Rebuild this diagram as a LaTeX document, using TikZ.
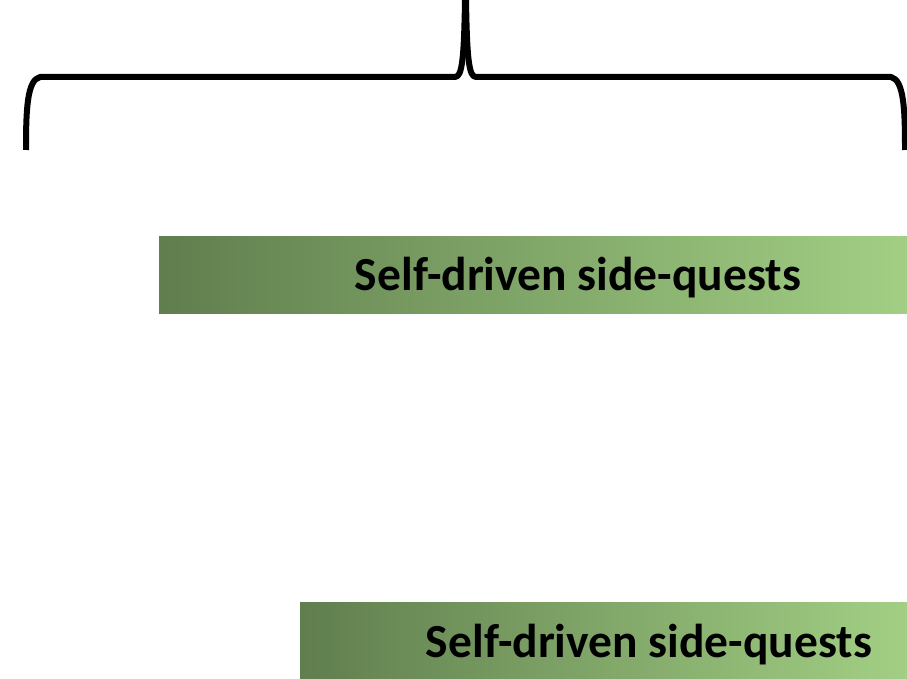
\documentclass[tikz,border=0pt]{standalone}
\usepackage{fontspec}
\setmainfont{Carlito}
\definecolor{barleft}{RGB}{96,126,78}
\definecolor{barright}{RGB}{162,207,132}
\begin{document}
\begin{tikzpicture}[x=1pt,y=-1pt,
  bar/.style={rectangle, inner sep=0pt, minimum height=77pt, anchor=north west, left color=barleft, right color=barright, draw=none},
  lbl/.style={inner sep=0pt, anchor=base, font=\fontsize{47.5}{50}\selectfont\bfseries, text=black},
  brace/.style={line width=6pt, line cap=butt, line join=round}]
\useasboundingbox (0,0) rectangle (907,679);
\node[bar, minimum width=748pt] (b1) at (159,236) {};
\node[lbl] (t1) at (578,290) {Self-driven side-quests};
\node[bar, minimum width=607pt] (b2) at (300,602) {};
\node[lbl] (t2) at (649,657) {Self-driven side-quests};
\draw[brace] (26,150) .. controls (26,110) and (27,80) .. (40,77)
  -- (455,77) .. controls (462,77) and (464,60) .. (465,0);
\draw[brace] (905,150) .. controls (905,110) and (904,80) .. (891,77)
  -- (476,77) .. controls (469,77) and (467,60) .. (466,0);
\end{tikzpicture}
\end{document}
